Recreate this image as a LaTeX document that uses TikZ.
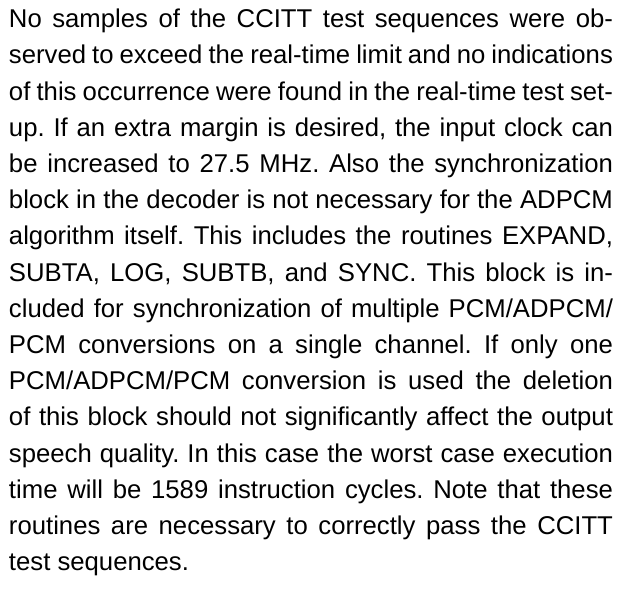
\documentclass[tikz,border=0pt]{standalone}
\usepackage{fontspec}
\setmainfont{Liberation Sans}
\frenchspacing
\newcommand{\jline}[1]{\makebox[604pt][s]{\frenchspacing\spaceskip=0.278em plus 0.8em minus 0.17em\relax #1}}
\tikzset{
  textline/.style={anchor=base west, inner sep=0pt, outer sep=0pt,
    font=\fontsize{25.7pt}{36pt}\selectfont}
}
\begin{document}
\begin{tikzpicture}[x=1pt,y=1pt]
\fill[white] (0,0) rectangle (617,-592);
\useasboundingbox (0,0) rectangle (617,-592);
\node[textline] (l1)  at (9,-27.7)  {\jline{No samples of the CCITT test sequences were ob-}};
\node[textline] (l2)  at (9,-63.9)  {\jline{served to exceed the real-time limit and no indications}};
\node[textline] (l3)  at (9,-100.1) {\jline{of this occurrence were found in the real-time test set-}};
\node[textline] (l4)  at (9,-136.3) {\jline{up. If an extra margin is desired, the input clock can}};
\node[textline] (l5)  at (9,-172.5) {\jline{be increased to 27.5 MHz. Also the synchronization}};
\node[textline] (l6)  at (9,-208.7) {\jline{block in the decoder is not necessary for the ADPCM}};
\node[textline] (l7)  at (9,-244.9) {\jline{algorithm itself. This includes the routines EXPAND,}};
\node[textline] (l8)  at (9,-281.1) {\jline{SUBTA, LOG, SUBTB, and SYNC. This block is in-}};
\node[textline] (l9)  at (9,-317.3) {\jline{cluded for synchronization of multiple PCM/ADPCM/}};
\node[textline] (l10) at (9,-353.5) {\jline{PCM conversions on a single channel. If only one}};
\node[textline] (l11) at (9,-389.7) {\jline{PCM/ADPCM/PCM conversion is used the deletion}};
\node[textline] (l12) at (9,-425.9) {\jline{of this block should not significantly affect the output}};
\node[textline] (l13) at (9,-462.1) {\jline{speech quality. In this case the worst case execution}};
\node[textline] (l14) at (9,-498.3) {\jline{time will be 1589 instruction cycles. Note that these}};
\node[textline] (l15) at (9,-534.5) {\jline{routines are necessary to correctly pass the CCITT}};
\node[textline] (l16) at (9,-570.7) {test sequences.};
\end{tikzpicture}
\end{document}
